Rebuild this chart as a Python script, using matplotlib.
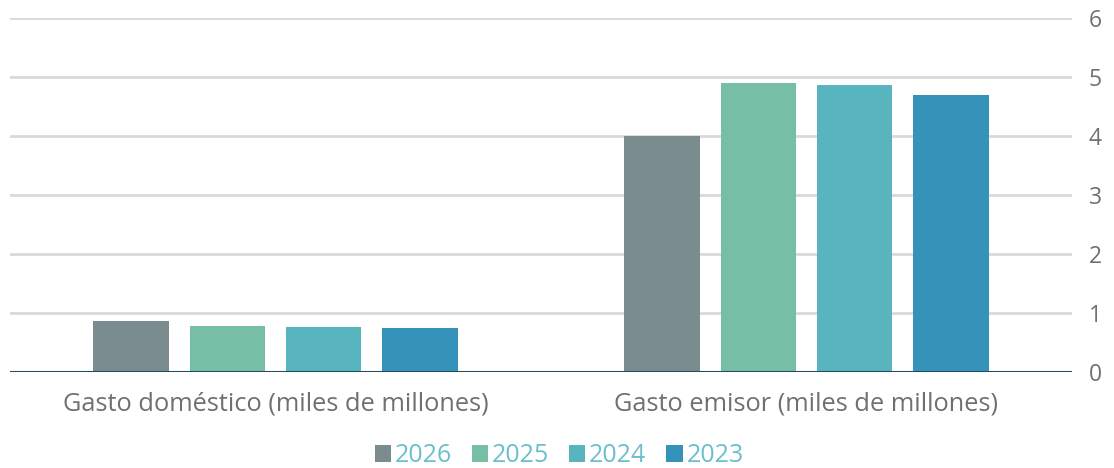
import numpy as np
import matplotlib
matplotlib.use('Agg')
import matplotlib.pyplot as plt

categories = ["Gasto doméstico (miles de millones)", "Gasto emisor (miles de millones)"]
years = ["2026", "2025", "2024", "2023"]
values = {
    "2026": [0.86, 4.00],
    "2025": [0.78, 4.90],
    "2024": [0.76, 4.86],
    "2023": [0.74, 4.69],
}
colors = {"2026": "#7a8c8e", "2025": "#76bea6", "2024": "#58b5c0", "2023": "#3593ba"}

plt.rcParams['font.family'] = ['Open Sans', 'DejaVu Sans']

fig = plt.figure(figsize=(11.14, 4.68), dpi=100)
ax = fig.add_axes([10/1114, 1 - 372/468, 1062/1114, 354/468])

x = np.arange(len(categories))
step = 0.1808
width = 0.1431
for i, yr in enumerate(years):
    ax.bar(x + (i - 1.5) * step, values[yr], width=width, color=colors[yr],
           label=yr, zorder=3)

ax.set_xlim(-0.5, 1.5)
ax.set_ylim(0, 6)
ax.set_yticks(range(0, 7))
ax.yaxis.tick_right()
ax.tick_params(axis='y', length=0, pad=12, labelsize=16.5, labelcolor='#707070')
ax.set_xticks(x)
ax.set_xticklabels(categories, fontsize=18.3, color='#707070')
ax.tick_params(axis='x', length=0, pad=14)
ax.grid(axis='y', color='#d9d9d9', linewidth=2, zorder=0)
for s in ax.spines.values():
    s.set_visible(False)
ax.axhline(0, color='#1f4e63', linewidth=2.2, zorder=4)

leg = fig.legend(loc='center', bbox_to_anchor=(559/1114, 1 - 456/468), ncol=4,
                 frameon=False, fontsize=18, handlelength=0.65, handleheight=0.65,
                 handletextpad=0.15, columnspacing=0.8)
for t in leg.get_texts():
    t.set_color('#6bbfcb')

fig.savefig("out.png", dpi=100)
